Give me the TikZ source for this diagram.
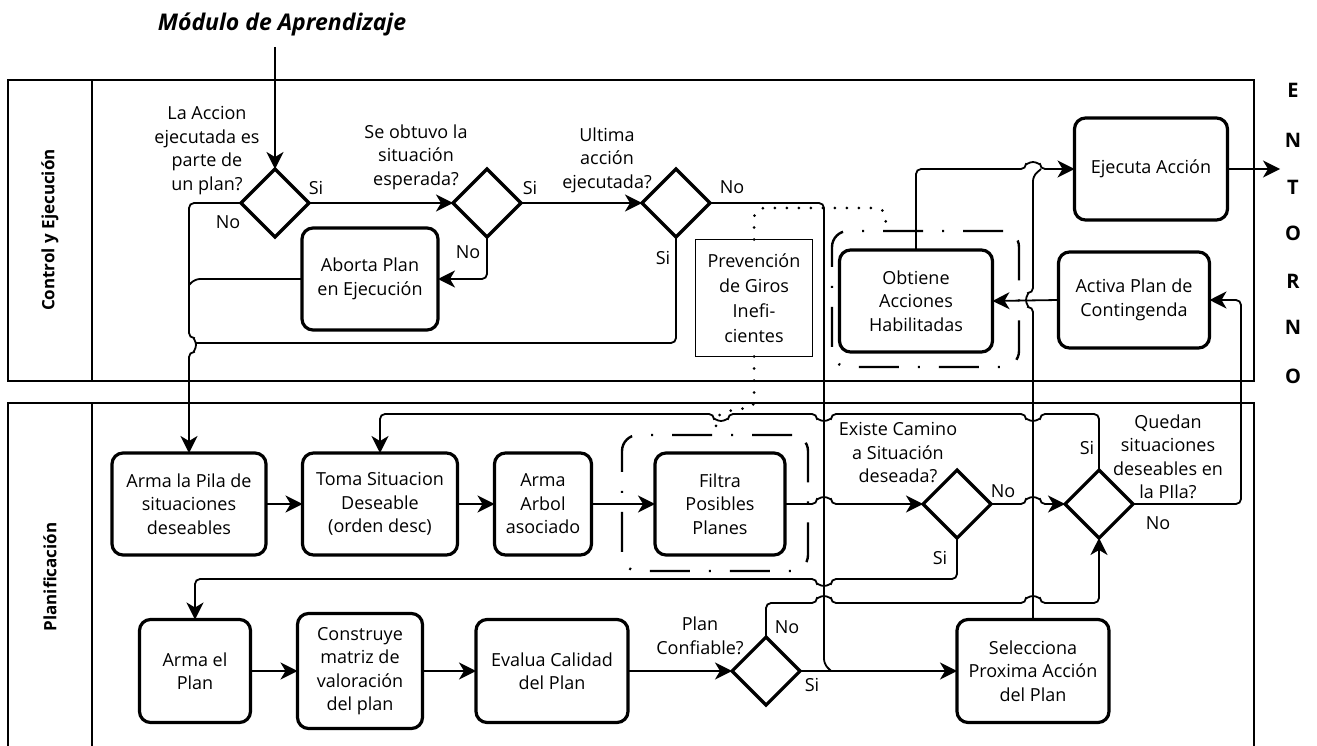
\documentclass[tikz,border=0pt]{standalone}
\usepackage{fontspec}
\setmainfont{Open Sans}
\usetikzlibrary{shapes.geometric,arrows.meta}
\begin{document}
\begin{tikzpicture}[x=1pt,y=-1pt,
  every node/.style={font=\fontsize{18}{23.5}\selectfont, align=center, inner sep=0pt, outer sep=0pt},
  proc/.style={draw, line width=3.2pt, rounded corners=11pt},
  decision/.style={diamond, draw, line width=3.2pt, minimum width=68pt, minimum height=68pt, aspect=1},
  lane/.style={line width=1.8pt},
  conn/.style={line width=1.8pt, rounded corners=5pt},
  arr/.style={conn, -{Stealth[length=17pt,width=17pt,inset=5pt]}},
  dots/.style={line width=3pt, line cap=round, dash pattern=on 0pt off 12pt, rounded corners=10pt},
  group/.style={draw, line width=2.4pt, rounded corners=16pt, dash pattern=on 40pt off 19pt on 2pt off 19pt},
  lanelabel/.style={rotate=90, font=\fontsize{17}{19}\selectfont\bfseries},
  env/.style={font=\fontsize{20}{22}\selectfont\bfseries},
]
\useasboundingbox (0,0) rectangle (1317,746);

% swimlanes
\draw[lane] (8,80) rectangle (1254,381);
\draw[lane] (92,80) -- (92,381);
\draw[lane] (8,746) -- (8,403) -- (1254,403) -- (1254,746);
\draw[lane] (92,403) -- (92,746);
\node[lanelabel] (laneA) at (50,230) {Control y Ejecución};
\node[lanelabel] (laneB) at (50,577) {Planificación};

% title and environment
\node (title) at (282,24) {\fontsize{23}{25}\selectfont\bfseries\itshape Módulo de Aprendizaje};
\foreach \l/\y [count=\i] in {E/90,N/140,T/187,O/233,R/281,N/327,O/376}
  \node[env] (env\i) at (1293,\y) {\l};
\coordinate (src) at (275,47);
\coordinate (out) at (1280,169);

% groups
\node[group, minimum width=186pt, minimum height=136pt] (gfil) at (715,503) {};
\node[group, minimum width=187pt, minimum height=136pt] (gobt) at (925.5,299) {};

% control lane
\node[decision] (d1) at (275,203) {};
\node[decision] (d2) at (487,203) {};
\node[decision] (d3) at (676,203) {};
\node[proc, minimum width=136pt, minimum height=102pt] (abort) at (370,279) {Aborta Plan\\en Ejecución};
\node[proc, minimum width=153pt, minimum height=102pt] (exec) at (1151,169) {Ejecuta Acción};
\node[proc, minimum width=151pt, minimum height=96pt] (cont) at (1134,300) {Activa Plan de\\Contingenda};
\node[proc, minimum width=153pt, minimum height=102pt] (obt) at (916,301) {Obtiene\\Acciones\\Habilitadas};
\node[draw, line width=1.5pt, minimum width=117pt, minimum height=117pt, font=\fontsize{18}{25}\selectfont] (prev) at (754,298) {Prevención\\de Giros\\Inefi-\\cientes};

% planning lane
\node[proc, minimum width=154pt, minimum height=102pt] (pila) at (189,504) {Arma la Pila de\\situaciones\\deseables};
\node[proc, minimum width=155pt, minimum height=102pt] (toma) at (380,504) {Toma Situacion\\Deseable\\(orden desc)};
\node[proc, minimum width=97pt, minimum height=102pt] (arbol) at (543,504) {Arma\\Arbol\\asociado};
\node[proc, minimum width=130pt, minimum height=102pt] (filtra) at (720,504) {Filtra\\Posibles\\Planes};
\node[decision] (d4) at (957,504) {};
\node[decision] (d5) at (1099,504) {};
\node[proc, minimum width=111pt, minimum height=103pt] (plan) at (195,671) {Arma el\\Plan};
\node[proc, minimum width=125pt, minimum height=115pt] (matriz) at (360,671) {Construye\\matriz de\\valoración\\del plan};
\node[proc, minimum width=152pt, minimum height=103pt] (evalua) at (552,671) {Evalua Calidad\\del Plan};
\node[decision] (d6) at (766,671) {};
\node[proc, minimum width=152pt, minimum height=103pt] (selec) at (1033,671) {Selecciona\\Proxima Acción\\del Plan};

% question texts
\node (q1) at (207,150.5) {La Accion\\ejecutada es\\parte de\\un plan?};
\node (q2) at (416,157) {Se obtuvo la\\situación\\esperada?};
\node (q3) at (607,160) {Ultima\\acción\\ejecutada?};
\node (q4) at (898,453) {Existe Camino\\a Situación\\deseada?};
\node (q5) at (1168,457) {Quedan\\situaciones\\deseables en\\la PIla?};
\node (q6) at (700,636) {Plan\\Confiable?};

% branch labels
\node (l1) at (316,188) {Si};
\node (l2) at (228,222) {No};
\node (l3) at (530,188) {Si};
\node (l4) at (468,252) {No};
\node (l5) at (732,187) {No};
\node (l6) at (663,258) {Si};
\node (l7) at (1003,491) {No};
\node (l8) at (940,558) {Si};
\node (l9) at (1087,448) {Si};
\node (l10) at (1158,523) {No};
\node (l11) at (787,627) {No};
\node (l12) at (812,685) {Si};

% connectors, control lane
\draw[arr] (src) -- (d1.north);
\draw[arr] (d1.east) -- (d2.west);
\draw[arr] (d1.west) -- (189,203) -- (189,338) arc[start angle=-90,end angle=90,radius=7] -- (pila.north);
\draw[arr] (d2.south) |- (abort.east);
\draw[conn] (abort.west) -- (195,279) -- (189,285);
\draw[arr] (d2.east) -- (d3.west);
\draw[conn] (d3.south) |- (196,343);
\draw[conn] (d3.east) -- (824,203) -- (824,664) -- (831,671);
\draw[arr] (obt.north) -- (916,169) -- (1026,169) arc[start angle=180,end angle=360,radius=7] -- (exec.west);
\draw[conn] (selec.north) -- (1033,307) arc[start angle=90,end angle=270,radius=7] -- (1033,176) -- (1041,169);
\draw[arr] (exec.east) -- (out);
\draw[arr] (cont.west) -- (obt.east);

% connectors, planning lane
\draw[arr] (pila.east) -- (toma.west);
\draw[arr] (toma.east) -- (arbol.west);
\draw[arr] (arbol.east) -- (filtra.west);
\draw[arr] (filtra.east) -- (817,504) arc[start angle=180,end angle=360,radius=7] -- (d4.west);
\draw[arr] (d4.east) -- (1026,504) arc[start angle=180,end angle=360,radius=7] -- (d5.west);
\draw[arr] (d5.east) -- (1241,504) -- (1241,300) -- (cont.east);
\draw[arr] (d5.north) -- (1099,414) -- (1040,414) arc[start angle=0,end angle=180,radius=7]
  -- (831,414) arc[start angle=0,end angle=180,radius=7]
  -- (728,414) arc[start angle=0,end angle=180,radius=7] -- (380,414) -- (toma.north);
\draw[arr] (d4.south) -- (957,579) -- (831,579) arc[start angle=0,end angle=180,radius=7] -- (195,579) -- (plan.north);
\draw[arr] (d6.north) -- (766,603) -- (817,603) arc[start angle=180,end angle=360,radius=7]
  -- (1026,603) arc[start angle=180,end angle=360,radius=7] -- (1099,603) -- (d5.south);
\draw[arr] (plan.east) -- (matriz.west);
\draw[arr] (matriz.east) -- (evalua.west);
\draw[arr] (evalua.east) -- (d6.west);
\draw[arr] (d6.east) -- (selec.west);

% dotted associations
\draw[dots] (prev.north) -- (754,208) -- (886,208) -- ([xshift=-40pt]gobt.north);
\draw[line width=3pt, line cap=round, dash pattern=on 0pt off 12pt] (prev.south) -- (754,403) .. controls (754,412) and (716,406) .. (716,422) -- (gfil.north -| 716,0);
\end{tikzpicture}
\end{document}
